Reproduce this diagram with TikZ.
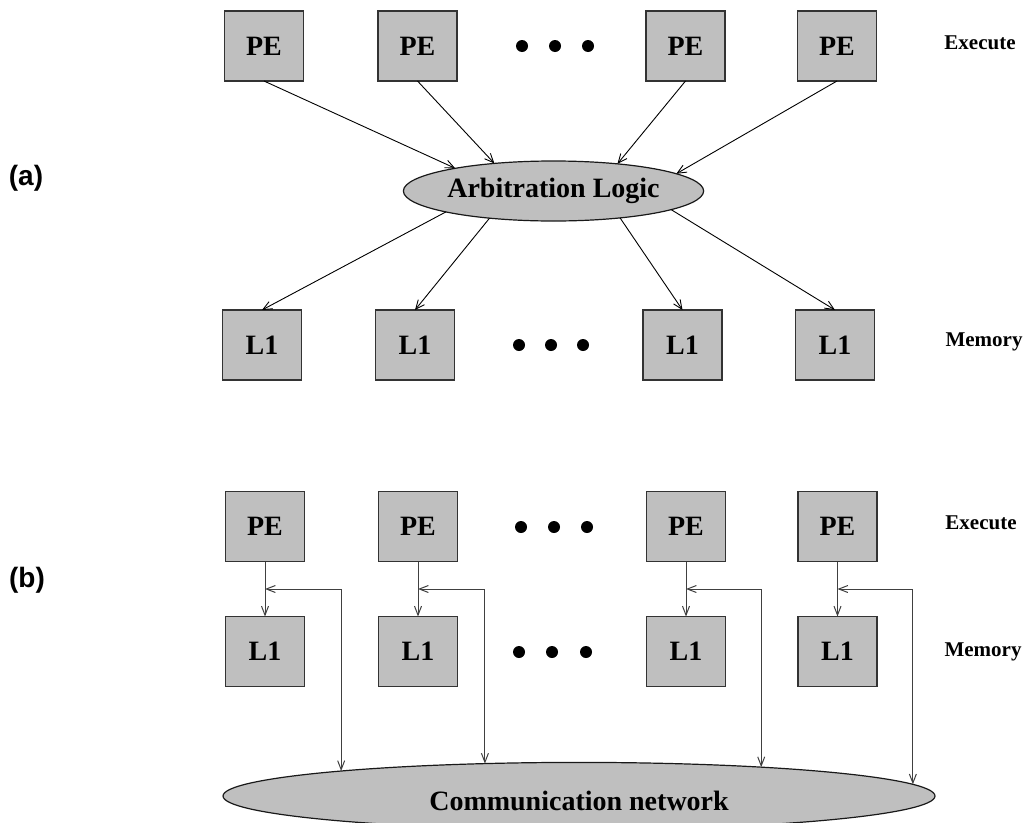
\documentclass[tikz,border=0pt]{standalone}
\usepackage{fontspec}
\setmainfont{Liberation Serif}
\newfontfamily\labfont{Liberation Sans}
\usetikzlibrary{arrows.meta,shapes.geometric}
\begin{document}
\begin{tikzpicture}[x=1pt,y=-1pt,
  box/.style={draw=black!80, line width=1.2pt, fill=black!25, minimum width=79pt, minimum height=70pt, inner sep=0pt, outer sep=0pt, font=\fontsize{28}{30}\selectfont\bfseries},
  blob/.style={ellipse, draw=black!90, line width=1.2pt, fill=black!25, inner sep=0pt, outer sep=0pt, font=\fontsize{28}{30}\selectfont\bfseries},
  bigdot/.style={circle, fill=black, minimum size=12pt, inner sep=0pt},
  side/.style={font=\fontsize{21}{24}\selectfont\bfseries},
  part/.style={font=\labfont\fontsize{28}{30}\selectfont\bfseries},
  conn/.style={line width=0.9pt, draw=black, -{Straight Barb[length=9pt,width=8pt]}},
  connb/.style={line width=1pt, draw=black!75, -{Straight Barb[length=9pt,width=7pt]}},
  connbb/.style={line width=1pt, draw=black!75, {Straight Barb[length=9pt,width=7pt]}-{Straight Barb[length=9pt,width=7pt]}},
  ]
\useasboundingbox (0,0) rectangle (1027,822);
\clip (0,0) rectangle (1027,822);

% ---------------- (a) ----------------
\node[part] (lbla) at (26,178) {(a)};
\node[box] (pa1) at (264,46) {PE};
\node[box] (pa2) at (417.5,46) {PE};
\node[box] (pa3) at (685.5,46) {PE};
\node[box] (pa4) at (837,46) {PE};
\node[bigdot] (dta1) at (522,46) {};
\node[bigdot] (dta2) at (555,46) {};
\node[bigdot] (dta3) at (588,46) {};
\node[side] (exa) at (980,43) {Execute};

\node[blob, minimum width=259pt, minimum height=60pt] (arb) at (553.5,191) {Arbitration Logic};

\node[box] (la1) at (262,345) {L1};
\node[box] (la2) at (415,345) {L1};
\node[box] (la3) at (682.5,345) {L1};
\node[box] (la4) at (835,345) {L1};
\node[bigdot] (dba1) at (519,345) {};
\node[bigdot] (dba2) at (551,345) {};
\node[bigdot] (dba3) at (583,345) {};
\node[side] (mema) at (984,342) {Memory};

\draw[conn] (pa1.south) -- (arb.167.7);
\draw[conn] (pa2.south) -- (arb.155.9);
\draw[conn] (pa3.south) -- (arb.23.1);
\draw[conn] (pa4.south) -- (arb.8.9);
\draw[conn] (arb.191) -- (la1.north);
\draw[conn] (arb.203.5) -- (la2.north);
\draw[conn] (arb.338.2) -- (la3.north);
\draw[conn] (arb.351.7) -- (la4.north);

% ---------------- (b) ----------------
\node[part] (lblb) at (27,580) {(b)};
\node[box] (pb1) at (265,526.5) {PE};
\node[box] (pb2) at (418,526.5) {PE};
\node[box] (pb3) at (686,526.5) {PE};
\node[box] (pb4) at (837.5,526.5) {PE};
\node[bigdot] (dtb1) at (521,527) {};
\node[bigdot] (dtb2) at (554,527) {};
\node[bigdot] (dtb3) at (587,527) {};
\node[side] (exb) at (981,523) {Execute};

\node[box] (lb1) at (265,651.5) {L1};
\node[box] (lb2) at (418,651.5) {L1};
\node[box] (lb3) at (686,651.5) {L1};
\node[box] (lb4) at (837.5,651.5) {L1};
\node[bigdot] (dbb1) at (519,652) {};
\node[bigdot] (dbb2) at (552,652) {};
\node[bigdot] (dbb3) at (586,652) {};
\node[side] (memb) at (983,652) {Memory};

\node[blob, minimum width=712pt, minimum height=67.2pt, text height=29pt, text depth=0pt] (comm) at (579,796) {Communication network};

\draw[connb] (pb1.south) -- (lb1.north);
\draw[connb] (pb2.south) -- (lb2.north);
\draw[connb] (pb3.south) -- (lb3.north);
\draw[connb] (pb4.south) -- (lb4.north);

\coordinate (j1) at (265,589);
\coordinate (j2) at (418,589);
\coordinate (j3) at (686,589);
\coordinate (j4) at (837.5,589);
\draw[connbb] (comm.174.5) |- (j1);
\draw[connbb] (comm.161.2) |- (j2);
\draw[connbb] (comm.9.6) |- (j3);
\draw[connbb] (comm.2.46) |- (j4);
\end{tikzpicture}
\end{document}
